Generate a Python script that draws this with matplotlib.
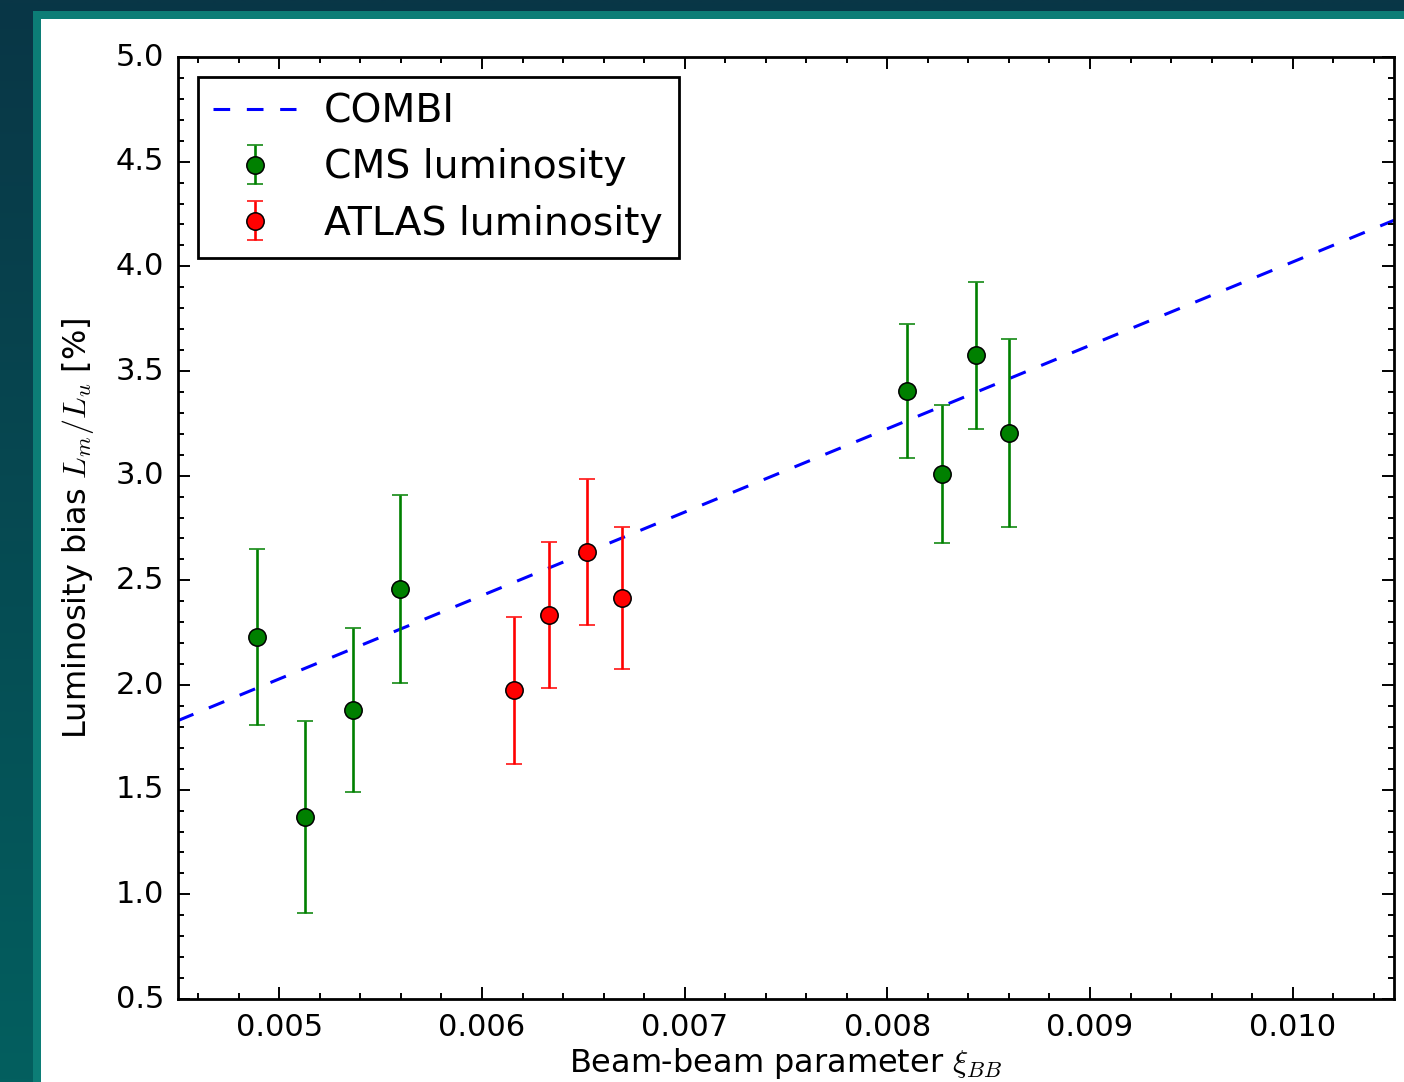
import numpy as np
import matplotlib.pyplot as plt
from matplotlib.ticker import AutoMinorLocator, MultipleLocator
from matplotlib.patches import Rectangle

plt.style.use('classic')
plt.rcParams['lines.scale_dashes'] = False
plt.rcParams['mathtext.fontset'] = 'cm'

# COMBI simulation (straight line through the plot range)
combi_x = [0.0045, 0.0105]
combi_y = [1.83, 4.22]

# CMS measurements
cms_x = [0.00489, 0.005126, 0.005364, 0.005596, 0.008097, 0.00827, 0.008438, 0.008601]
cms_y = [2.23, 1.37, 1.88, 2.46, 3.405, 3.006, 3.575, 3.205]
cms_err = [0.42, 0.46, 0.39, 0.45, 0.32, 0.33, 0.35, 0.45]

# ATLAS measurements
atlas_x = [0.006159, 0.006332, 0.00652, 0.006693]
atlas_y = [1.975, 2.335, 2.635, 2.415]
atlas_err = [0.35, 0.35, 0.35, 0.34]

W, H = 1404, 1082
fig = plt.figure(figsize=(W / 100, H / 100), dpi=100)

# slide-like background: dark teal gradient, a teal stripe, then white
bg = fig.add_axes([0, 0, 1, 1], zorder=-10)
top = np.array([0x09, 0x36, 0x46]) / 255
bot = np.array([0x03, 0x5f, 0x5f]) / 255
t = np.linspace(0, 1, 200)[:, None]
grad = top * (1 - t) + bot * t
bg.imshow(grad[:, None, :].repeat(2, axis=1), aspect='auto', extent=[0, 1, 0, 1], origin='upper')
bg.add_patch(Rectangle((33 / W, 0), 1, 1 - 10.5 / H, facecolor='#0c7d76', edgecolor='none'))
bg.add_patch(Rectangle((41 / W, 0), 1, 1 - 19 / H, facecolor='white', edgecolor='none'))
bg.set_xlim(0, 1)
bg.set_ylim(0, 1)
bg.axis('off')

ax = fig.add_axes([178 / W, 1 - 999 / H, (1394 - 178) / W, (999 - 57) / H])

ax.plot(combi_x, combi_y, color='b', ls=(0, (12, 12)), lw=2.2, label='COMBI')
ax.errorbar(cms_x, cms_y, yerr=cms_err, fmt='o', color='g', ecolor='g', mec='k', mew=1.1,
            ms=12.5, elinewidth=1.9, capsize=6, capthick=1.3, label='CMS luminosity')
ax.errorbar(atlas_x, atlas_y, yerr=atlas_err, fmt='o', color='r', ecolor='r', mec='k', mew=1.1,
            ms=12.5, elinewidth=1.9, capsize=6, capthick=1.3, label='ATLAS luminosity')

ax.set_xlim(0.0045, 0.0105)
ax.set_ylim(0.5, 5.0)
ax.xaxis.set_major_locator(MultipleLocator(0.001))
ax.yaxis.set_major_locator(MultipleLocator(0.5))
ax.xaxis.set_minor_locator(AutoMinorLocator(5))
ax.yaxis.set_minor_locator(AutoMinorLocator(5))
ax.tick_params(which='both', direction='in', top=True, right=True, width=1.4)
ax.tick_params(which='major', length=8.5, labelsize=22, pad=10)
ax.tick_params(which='minor', length=4.3)
for s in ax.spines.values():
    s.set_linewidth(2)

ax.set_xlabel(r'Beam-beam parameter $\xi_{BB}$', fontsize=23, labelpad=3)
ax.set_ylabel(r'Luminosity bias $L_m/L_u$ [%]', fontsize=23, labelpad=14)

leg = ax.legend(loc='upper left', numpoints=1, fontsize=28.3, handlelength=2.1,
                handletextpad=0.72, labelspacing=0.46, borderpad=0.4, borderaxespad=0.5,
                fancybox=False, frameon=True)
leg.get_frame().set_linewidth(2)
leg.get_frame().set_edgecolor('k')

fig.savefig('out.png', dpi=100, facecolor=fig.get_facecolor())
